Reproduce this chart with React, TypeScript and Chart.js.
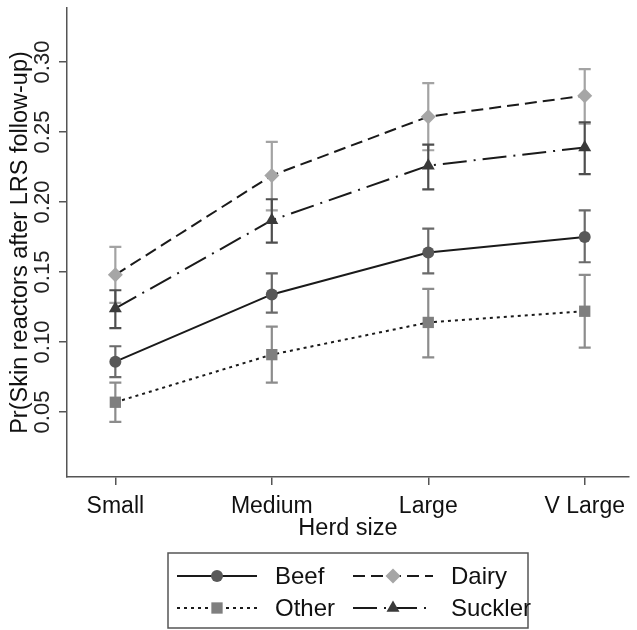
import React, { useEffect, useRef } from "react";
import { Chart, registerables } from "chart.js";

Chart.register(...registerables);

const categories = ["Small", "Medium", "Large", "V Large"];
const yTickValues = [0.05, 0.1, 0.15, 0.2, 0.25, 0.3];
const seriesNames = ["Beef", "Dairy", "Other", "Suckler"];

const beef = [0.086, 0.134, 0.164, 0.175];
const beefLow = [0.075, 0.121, 0.149, 0.157];
const beefHigh = [0.097, 0.149, 0.181, 0.194];

const dairy = [0.148, 0.219, 0.261, 0.276];
const dairyLow = [0.128, 0.194, 0.237, 0.256];
const dairyHigh = [0.168, 0.243, 0.285, 0.295];

const other = [0.057, 0.091, 0.114, 0.122];
const otherLow = [0.043, 0.071, 0.089, 0.096];
const otherHigh = [0.071, 0.111, 0.138, 0.148];

const suckler = [0.124, 0.187, 0.226, 0.239];
const sucklerLow = [0.11, 0.171, 0.209, 0.22];
const sucklerHigh = [0.137, 0.202, 0.241, 0.257];

const FONT = "'Liberation Sans', Arial, Helvetica, sans-serif";
const AXIS_COLOR = "#555555";

function drawMarker(ctx: CanvasRenderingContext2D, style: string, r: number, x: number, y: number, color: string) {
  ctx.save();
  ctx.fillStyle = color;
  ctx.setLineDash([]);
  ctx.beginPath();
  if (style === "circle") {
    ctx.arc(x, y, r, 0, Math.PI * 2);
  } else if (style === "rect") {
    const s = r * Math.SQRT1_2;
    ctx.rect(x - s, y - s, 2 * s, 2 * s);
  } else if (style === "rectRot") {
    ctx.moveTo(x - r, y);
    ctx.lineTo(x, y - r);
    ctx.lineTo(x + r, y);
    ctx.lineTo(x, y + r);
    ctx.closePath();
  } else if (style === "triangle") {
    let rad = 0;
    ctx.moveTo(x + Math.sin(rad) * r, y - Math.cos(rad) * r);
    rad += (2 * Math.PI) / 3;
    ctx.lineTo(x + Math.sin(rad) * r, y - Math.cos(rad) * r);
    rad += (2 * Math.PI) / 3;
    ctx.lineTo(x + Math.sin(rad) * r, y - Math.cos(rad) * r);
    ctx.closePath();
  }
  ctx.fill();
  ctx.restore();
}

const errorBarPlugin = {
  id: "errorBars",
  beforeDatasetsDraw(chart: any) {
    const ctx = chart.ctx as CanvasRenderingContext2D;
    const xs = chart.scales.x;
    const ys = chart.scales.y;
    chart.data.datasets.forEach((ds: any) => {
      ctx.save();
      ctx.strokeStyle = ds.errColor;
      ctx.lineWidth = 2.2;
      ctx.setLineDash([]);
      ds.data.forEach((pt: any, i: number) => {
        const x = xs.getPixelForValue(pt.x);
        const y1 = ys.getPixelForValue(ds.errLow[i]);
        const y2 = ys.getPixelForValue(ds.errHigh[i]);
        const cap = 6;
        ctx.beginPath();
        ctx.moveTo(x, y1);
        ctx.lineTo(x, y2);
        ctx.moveTo(x - cap, y1);
        ctx.lineTo(x + cap, y1);
        ctx.moveTo(x - cap, y2);
        ctx.lineTo(x + cap, y2);
        ctx.stroke();
      });
      ctx.restore();
    });
  },
};

const decorPlugin = {
  id: "decor",
  afterDraw(chart: any) {
    const ctx = chart.ctx as CanvasRenderingContext2D;
    const ys = chart.scales.y;
    const xs = chart.scales.x;
    const area = chart.chartArea;

    // rotated y tick labels
    ctx.save();
    ctx.fillStyle = "#222222";
    ctx.font = `22px ${FONT}`;
    ctx.textAlign = "center";
    ctx.textBaseline = "middle";
    yTickValues.forEach((v) => {
      const py = ys.getPixelForValue(v);
      ctx.save();
      ctx.translate(area.left - 24, py);
      ctx.rotate(-Math.PI / 2);
      ctx.fillText(v.toFixed(2), 0, 0);
      ctx.restore();
    });
    ctx.restore();

    // legend box
    const boxW = 360;
    const boxH = 75;
    const cx = (area.left + area.right) / 2;
    const left = cx - boxW / 2;
    const top = xs.bottom + 8;
    ctx.save();
    ctx.strokeStyle = AXIS_COLOR;
    ctx.lineWidth = 1.5;
    ctx.strokeRect(left, top, boxW, boxH);
    ctx.font = `24px ${FONT}`;
    ctx.textBaseline = "middle";
    ctx.textAlign = "left";
    chart.data.datasets.forEach((ds: any, i: number) => {
      const col = i % 2;
      const row = Math.floor(i / 2);
      const lx = left + (col === 0 ? 9 : 185);
      const ly = top + (row === 0 ? 23 : 55);
      ctx.save();
      ctx.strokeStyle = ds.borderColor;
      ctx.lineWidth = 2;
      ctx.setLineDash(ds.borderDash || []);
      ctx.beginPath();
      ctx.moveTo(lx, ly);
      ctx.lineTo(lx + 80, ly);
      ctx.stroke();
      ctx.restore();
      drawMarker(ctx, ds.pointStyle, ds.pointRadius, lx + 40, ly, ds.pointBackgroundColor);
      ctx.fillStyle = "#111111";
      ctx.fillText(ds.label, lx + 98, ly + 1);
    });
    ctx.restore();
  },
};

function series(values: number[]) {
  return values.map((v, i) => ({ x: i, y: v }));
}

export default function App() {
  const canvasRef = useRef<HTMLCanvasElement | null>(null);

  useEffect(() => {
    if (!canvasRef.current) return;
    Chart.defaults.font.family = FONT;
    const chart = new Chart(canvasRef.current, {
      type: "line",
      data: {
        datasets: [
          {
            label: seriesNames[0],
            data: series(beef),
            borderColor: "#1a1a1a",
            borderWidth: 2,
            borderDash: [],
            pointStyle: "circle",
            pointRadius: 6,
            pointBorderWidth: 0,
            pointBackgroundColor: "#585858",
            errLow: beefLow,
            errHigh: beefHigh,
            errColor: "#6a6a6a",
          } as any,
          {
            label: seriesNames[1],
            data: series(dairy),
            borderColor: "#1a1a1a",
            borderWidth: 2,
            borderDash: [12, 6],
            pointStyle: "rectRot",
            pointRadius: 7.5,
            pointBorderWidth: 0,
            pointBackgroundColor: "#a6a6a6",
            errLow: dairyLow,
            errHigh: dairyHigh,
            errColor: "#a3a3a3",
          } as any,
          {
            label: seriesNames[2],
            data: series(other),
            borderColor: "#1a1a1a",
            borderWidth: 2,
            borderDash: [3, 4],
            pointStyle: "rect",
            pointRadius: 8,
            pointBorderWidth: 0,
            pointBackgroundColor: "#7f7f7f",
            errLow: otherLow,
            errHigh: otherHigh,
            errColor: "#8c8c8c",
          } as any,
          {
            label: seriesNames[3],
            data: series(suckler),
            borderColor: "#1a1a1a",
            borderWidth: 2,
            borderDash: [24, 7, 2, 7],
            pointStyle: "triangle",
            pointRadius: 7.5,
            pointBorderWidth: 0,
            pointBackgroundColor: "#3a3a3a",
            errLow: sucklerLow,
            errHigh: sucklerHigh,
            errColor: "#4e4e4e",
          } as any,
        ],
      },
      options: {
        animation: false,
        responsive: true,
        maintainAspectRatio: false,
        layout: { padding: { top: 8, bottom: 85, left: 0, right: 0 } },
        plugins: {
          legend: { display: false },
          tooltip: { enabled: false },
        },
        elements: { line: { tension: 0 } },
        scales: {
          x: {
            type: "linear",
            min: -0.309,
            max: 3.283,
            afterBuildTicks: (scale: any) => {
              scale.ticks = categories.map((_, i) => ({ value: i }));
            },
            afterFit: (scale: any) => {
              scale.height = 68;
            },
            ticks: {
              callback: (v: any) => categories[Math.round(Number(v))] ?? "",
              font: { size: 23 },
              color: "#111111",
              padding: 8,
              maxRotation: 0,
              autoSkip: false,
            },
            grid: {
              drawOnChartArea: false,
              drawTicks: true,
              tickLength: 8,
              color: AXIS_COLOR,
              lineWidth: 1.5,
            },
            border: { display: true, color: AXIS_COLOR, width: 1.5 },
            title: {
              display: true,
              text: "Herd size",
              font: { size: 23.5 },
              color: "#111111",
              padding: { top: 0, bottom: 2 },
            },
          },
          y: {
            type: "linear",
            min: 0.0036,
            max: 0.3386,
            afterBuildTicks: (scale: any) => {
              scale.ticks = yTickValues.map((v) => ({ value: v }));
            },
            afterFit: (scale: any) => {
              scale.width = 67;
            },
            ticks: { display: false },
            grid: {
              drawOnChartArea: false,
              drawTicks: true,
              tickLength: 8,
              color: AXIS_COLOR,
              lineWidth: 1.5,
            },
            border: { display: true, color: AXIS_COLOR, width: 1.5 },
            title: {
              display: true,
              text: "Pr(Skin reactors after LRS follow-up)",
              font: { size: 23.5 },
              color: "#111111",
              padding: { top: 6, bottom: 0 },
            },
          },
        },
      } as any,
      plugins: [errorBarPlugin, decorPlugin],
    });
    return () => chart.destroy();
  }, []);

  return (
    <div style={{ position: "fixed", left: 0, top: 0, width: 637, height: 630, background: "#ffffff" }}>
      <canvas ref={canvasRef} />
    </div>
  );
}
